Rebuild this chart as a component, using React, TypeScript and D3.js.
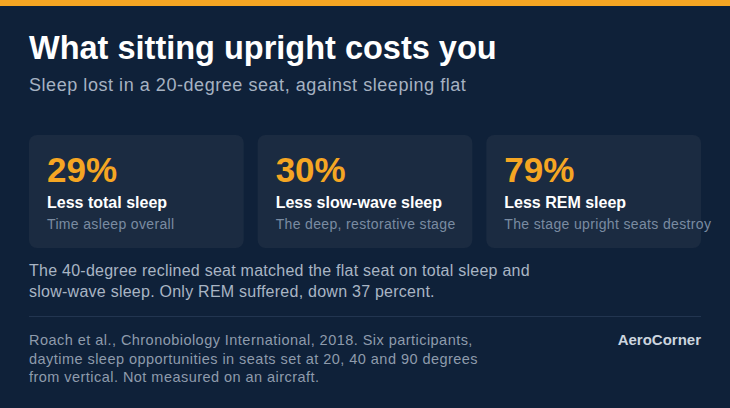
import React from 'react';
import * as d3 from 'd3';

// Sleep lost in a 20-degree seat vs sleeping flat (Roach et al., 2018)
const statValues = [29, 30, 79];
const statLabels = ['Less total sleep', 'Less slow-wave sleep', 'Less REM sleep'];
const statNotes = ['Time asleep overall', 'The deep, restorative stage', 'The stage upright seats destroy'];

const noteLines = [
  'The 40-degree reclined seat matched the flat seat on total sleep and',
  'slow-wave sleep. Only REM suffered, down 37 percent.',
];
const sourceLines = [
  'Roach et al., Chronobiology International, 2018. Six participants,',
  'daytime sleep opportunities in seats set at 20, 40 and 90 degrees',
  'from vertical. Not measured on an aircraft.',
];

const W = 730;
const H = 408;
const LEFT = 29;
const RIGHT = 701;
const FONT = '"Liberation Sans", Arial, Helvetica, sans-serif';

const BG = '#0f2139';
const CARD = '#1b2b41';
const ORANGE = '#f5a623';

const App: React.FC = () => {
  const x = d3
    .scaleBand<number>()
    .domain(d3.range(statValues.length))
    .range([LEFT, RIGHT])
    .paddingInner(0.061);

  const fmt = (v: number) => `${d3.format('d')(v)}%`;

  return (
    <svg
      width={W}
      height={H}
      viewBox={`0 0 ${W} ${H}`}
      style={{ position: 'fixed', left: 0, top: 0, display: 'block' }}
      fontFamily={FONT}
    >
      <rect width={W} height={H} fill={BG} />
      <rect width={W} height={6} fill={ORANGE} />

      <text x={LEFT} y={58.5} fontSize={32.5} fontWeight="bold" fill="#ffffff">
        What sitting upright costs you
      </text>
      <text x={LEFT} y={90.5} fontSize={18} fill="#a6b2c2" letterSpacing={0.55}>
        Sleep lost in a 20-degree seat, against sleeping flat
      </text>

      {statValues.map((v, i) => {
        const x0 = x(i)!;
        return (
          <g key={statLabels[i]}>
            <rect x={x0} y={135} width={x.bandwidth()} height={113} rx={8} fill={CARD} />
            <text x={x0 + 18} y={182} fontSize={35} fontWeight="bold" fill={ORANGE}>
              {fmt(v)}
            </text>
            <text x={x0 + 18} y={208} fontSize={16} fontWeight="bold" fill="#ffffff">
              {statLabels[i]}
            </text>
            <text x={x0 + 18} y={229} fontSize={14} fill="#7a8ba1" letterSpacing={0.35}>
              {statNotes[i]}
            </text>
          </g>
        );
      })}

      {noteLines.map((t, i) => (
        <text key={t} x={LEFT} y={276 + i * 20.5} fontSize={16} fill="#a9b5c4" letterSpacing={0.25}>
          {t}
        </text>
      ))}

      <line x1={LEFT} x2={RIGHT} y1={316.5} y2={316.5} stroke="#223550" strokeWidth={1} />

      {sourceLines.map((t, i) => (
        <text key={t} x={LEFT} y={345 + i * 18.7} fontSize={14.5} fill="#8e9bac" letterSpacing={0.46}>
          {t}
        </text>
      ))}
      <text x={RIGHT} y={345} fontSize={15} fontWeight="bold" fill="#ccd5df" textAnchor="end">
        AeroCorner
      </text>
    </svg>
  );
};

export default App;
